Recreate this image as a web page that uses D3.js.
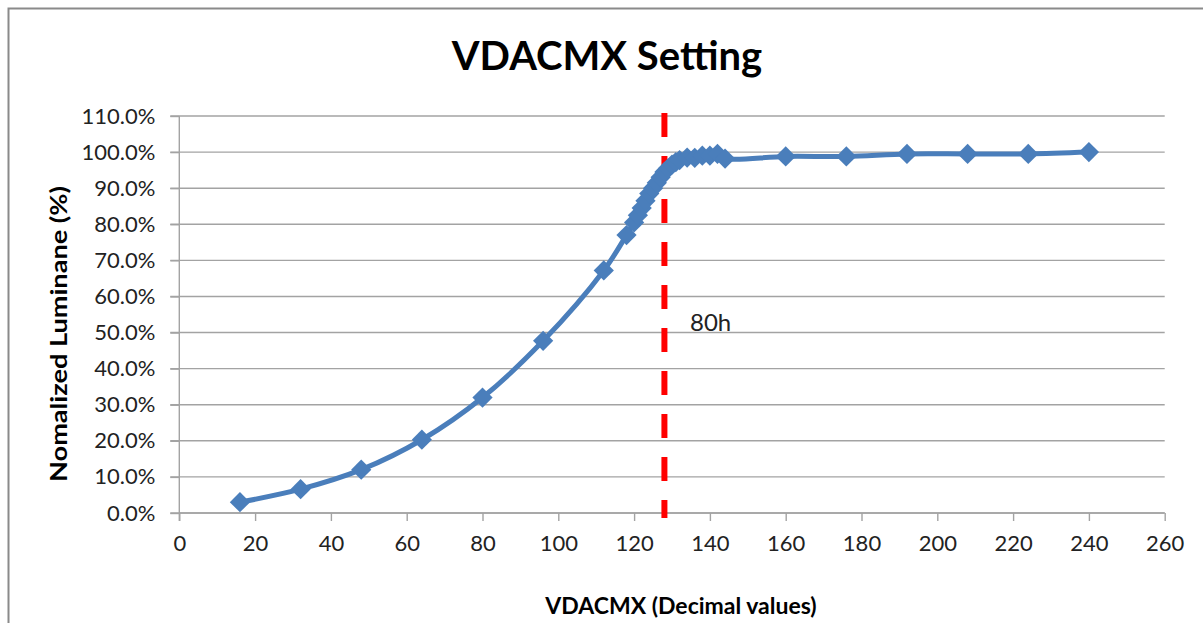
<!DOCTYPE html>
<html>
<head>
<meta charset="utf-8">
<script src="https://cdn.jsdelivr.net/npm/d3@7"></script>
<style>
  html, body { margin: 0; padding: 0; background: #fff; }
  svg { display: block; font-family: Lato, "Open Sans", sans-serif; }
</style>
</head>
<body>
<svg id="chart" width="1203" height="623"></svg>
<script>
// VDACMX register sweep (decimal) and measured normalized luminance (%)
const vdacmx = [16, 32, 48, 64, 80, 96, 112, 118, 120, 121, 122, 123, 124, 125, 126, 127,
                128, 129, 130, 131, 132, 134, 136, 138, 140, 142, 144, 160, 176, 192, 208, 224, 240];
const luminance = [3.0, 6.6, 12.0, 20.3, 32.0, 47.7, 67.2, 77.0, 80.5, 82.5, 84.5, 86.5, 88.5, 90.0, 91.5, 93.0,
                   94.5, 95.5, 96.5, 97.2, 97.8, 98.5, 98.4, 99.0, 99.0, 99.5, 98.2, 98.8, 98.8, 99.5, 99.5, 99.5, 100.0];
const xTicks = [0, 20, 40, 60, 80, 100, 120, 140, 160, 180, 200, 220, 240, 260];
const yTicks = [0, 10, 20, 30, 40, 50, 60, 70, 80, 90, 100, 110];
const markerValue = 0x80;           // reference setting, 80h
const markerLabel = "80h";

const svg = d3.select("#chart");
const W = 1203, H = 623;
const plot = { left: 179.3, right: 1164.7, top: 116, bottom: 513 };

const x = d3.scaleLinear().domain([0, 260]).range([plot.left, plot.right]);
const y = d3.scaleLinear().domain([0, 110]).range([plot.bottom, plot.top]);

// outer chart frame
svg.append("rect")
  .attr("x", 8.5).attr("y", 8.5)
  .attr("width", W + 20).attr("height", H + 20)
  .attr("fill", "#fff").attr("stroke", "#8a8a8a").attr("stroke-width", 2);

const gridColor = "#a3a3a3";

// horizontal gridlines with left tick stubs
svg.append("g")
  .selectAll("line").data(yTicks).join("line")
  .attr("x1", plot.left - 9).attr("x2", plot.right)
  .attr("y1", d => y(d)).attr("y2", d => y(d))
  .attr("stroke", gridColor).attr("stroke-width", 1.4);

// y axis
const yAxis = d3.axisLeft(y).tickValues(yTicks)
  .tickFormat(d => d.toFixed(1) + "%").tickSize(9).tickPadding(15);
const gy = svg.append("g").attr("transform", `translate(${plot.left},0)`).call(yAxis);
gy.select(".domain").remove();
gy.selectAll(".tick line").attr("stroke", gridColor).attr("stroke-width", 1.4);
gy.selectAll(".tick text").attr("fill", "#222").style("font-size", "22px")
  .style("font-family", "Lato, sans-serif");
svg.append("line")
  .attr("x1", plot.left).attr("x2", plot.left)
  .attr("y1", plot.top).attr("y2", plot.bottom + 8)
  .attr("stroke", gridColor).attr("stroke-width", 1.4);

// x axis
const xAxis = d3.axisBottom(x).tickValues(xTicks).tickSize(8).tickPadding(14);
const gx = svg.append("g").attr("transform", `translate(0,${plot.bottom})`).call(xAxis);
gx.select(".domain").attr("stroke", gridColor).attr("stroke-width", 1.4)
  .attr("d", `M${plot.left},0H${plot.right}`);
gx.selectAll(".tick line").attr("stroke", gridColor).attr("stroke-width", 1.4);
gx.selectAll(".tick text").attr("fill", "#222").style("font-size", "22px")
  .style("font-family", "Lato, sans-serif");

// reference setting marker
svg.append("line")
  .attr("x1", x(markerValue)).attr("x2", x(markerValue))
  .attr("y1", 113).attr("y2", 518)
  .attr("stroke", "#ff0000").attr("stroke-width", 6)
  .attr("stroke-dasharray", "24,19");

svg.append("text")
  .attr("x", 690).attr("y", 331)
  .attr("fill", "#222").style("font-size", "24px")
  .text(markerLabel);

// luminance curve
const pts = vdacmx.map((v, i) => [v, luminance[i]]);
const line = d3.line()
  .x(d => x(d[0])).y(d => y(d[1]))
  .curve(d3.curveCatmullRom.alpha(0.5));

const blue = "#4a7ebb";
svg.append("path")
  .datum(pts)
  .attr("d", line)
  .attr("fill", "none").attr("stroke", blue).attr("stroke-width", 5)
  .attr("stroke-linejoin", "round");

const diamond = d3.symbol().type(d3.symbolSquare).size(205);
svg.append("g")
  .selectAll("path").data(pts).join("path")
  .attr("d", diamond)
  .attr("transform", d => `translate(${x(d[0])},${y(d[1])}) rotate(45)`)
  .attr("fill", blue);

// titles
svg.append("text")
  .attr("x", 607).attr("y", 70)
  .attr("text-anchor", "middle")
  .style("font-size", "40px").style("font-weight", "bold").attr("fill", "#000")
  .text("VDACMX Setting");

svg.append("text")
  .attr("transform", "translate(67,334) rotate(-90) scale(1.18,1)")
  .attr("text-anchor", "middle")
  .style("font-size", "23px").style("font-weight", "bold").attr("fill", "#000")
  .text("Nomalized Luminane (%)");

svg.append("text")
  .attr("x", 681).attr("y", 614)
  .attr("text-anchor", "middle")
  .style("font-size", "23px").style("font-weight", "bold").attr("fill", "#000")
  .text("VDACMX (Decimal values)");
</script>
</body>
</html>
